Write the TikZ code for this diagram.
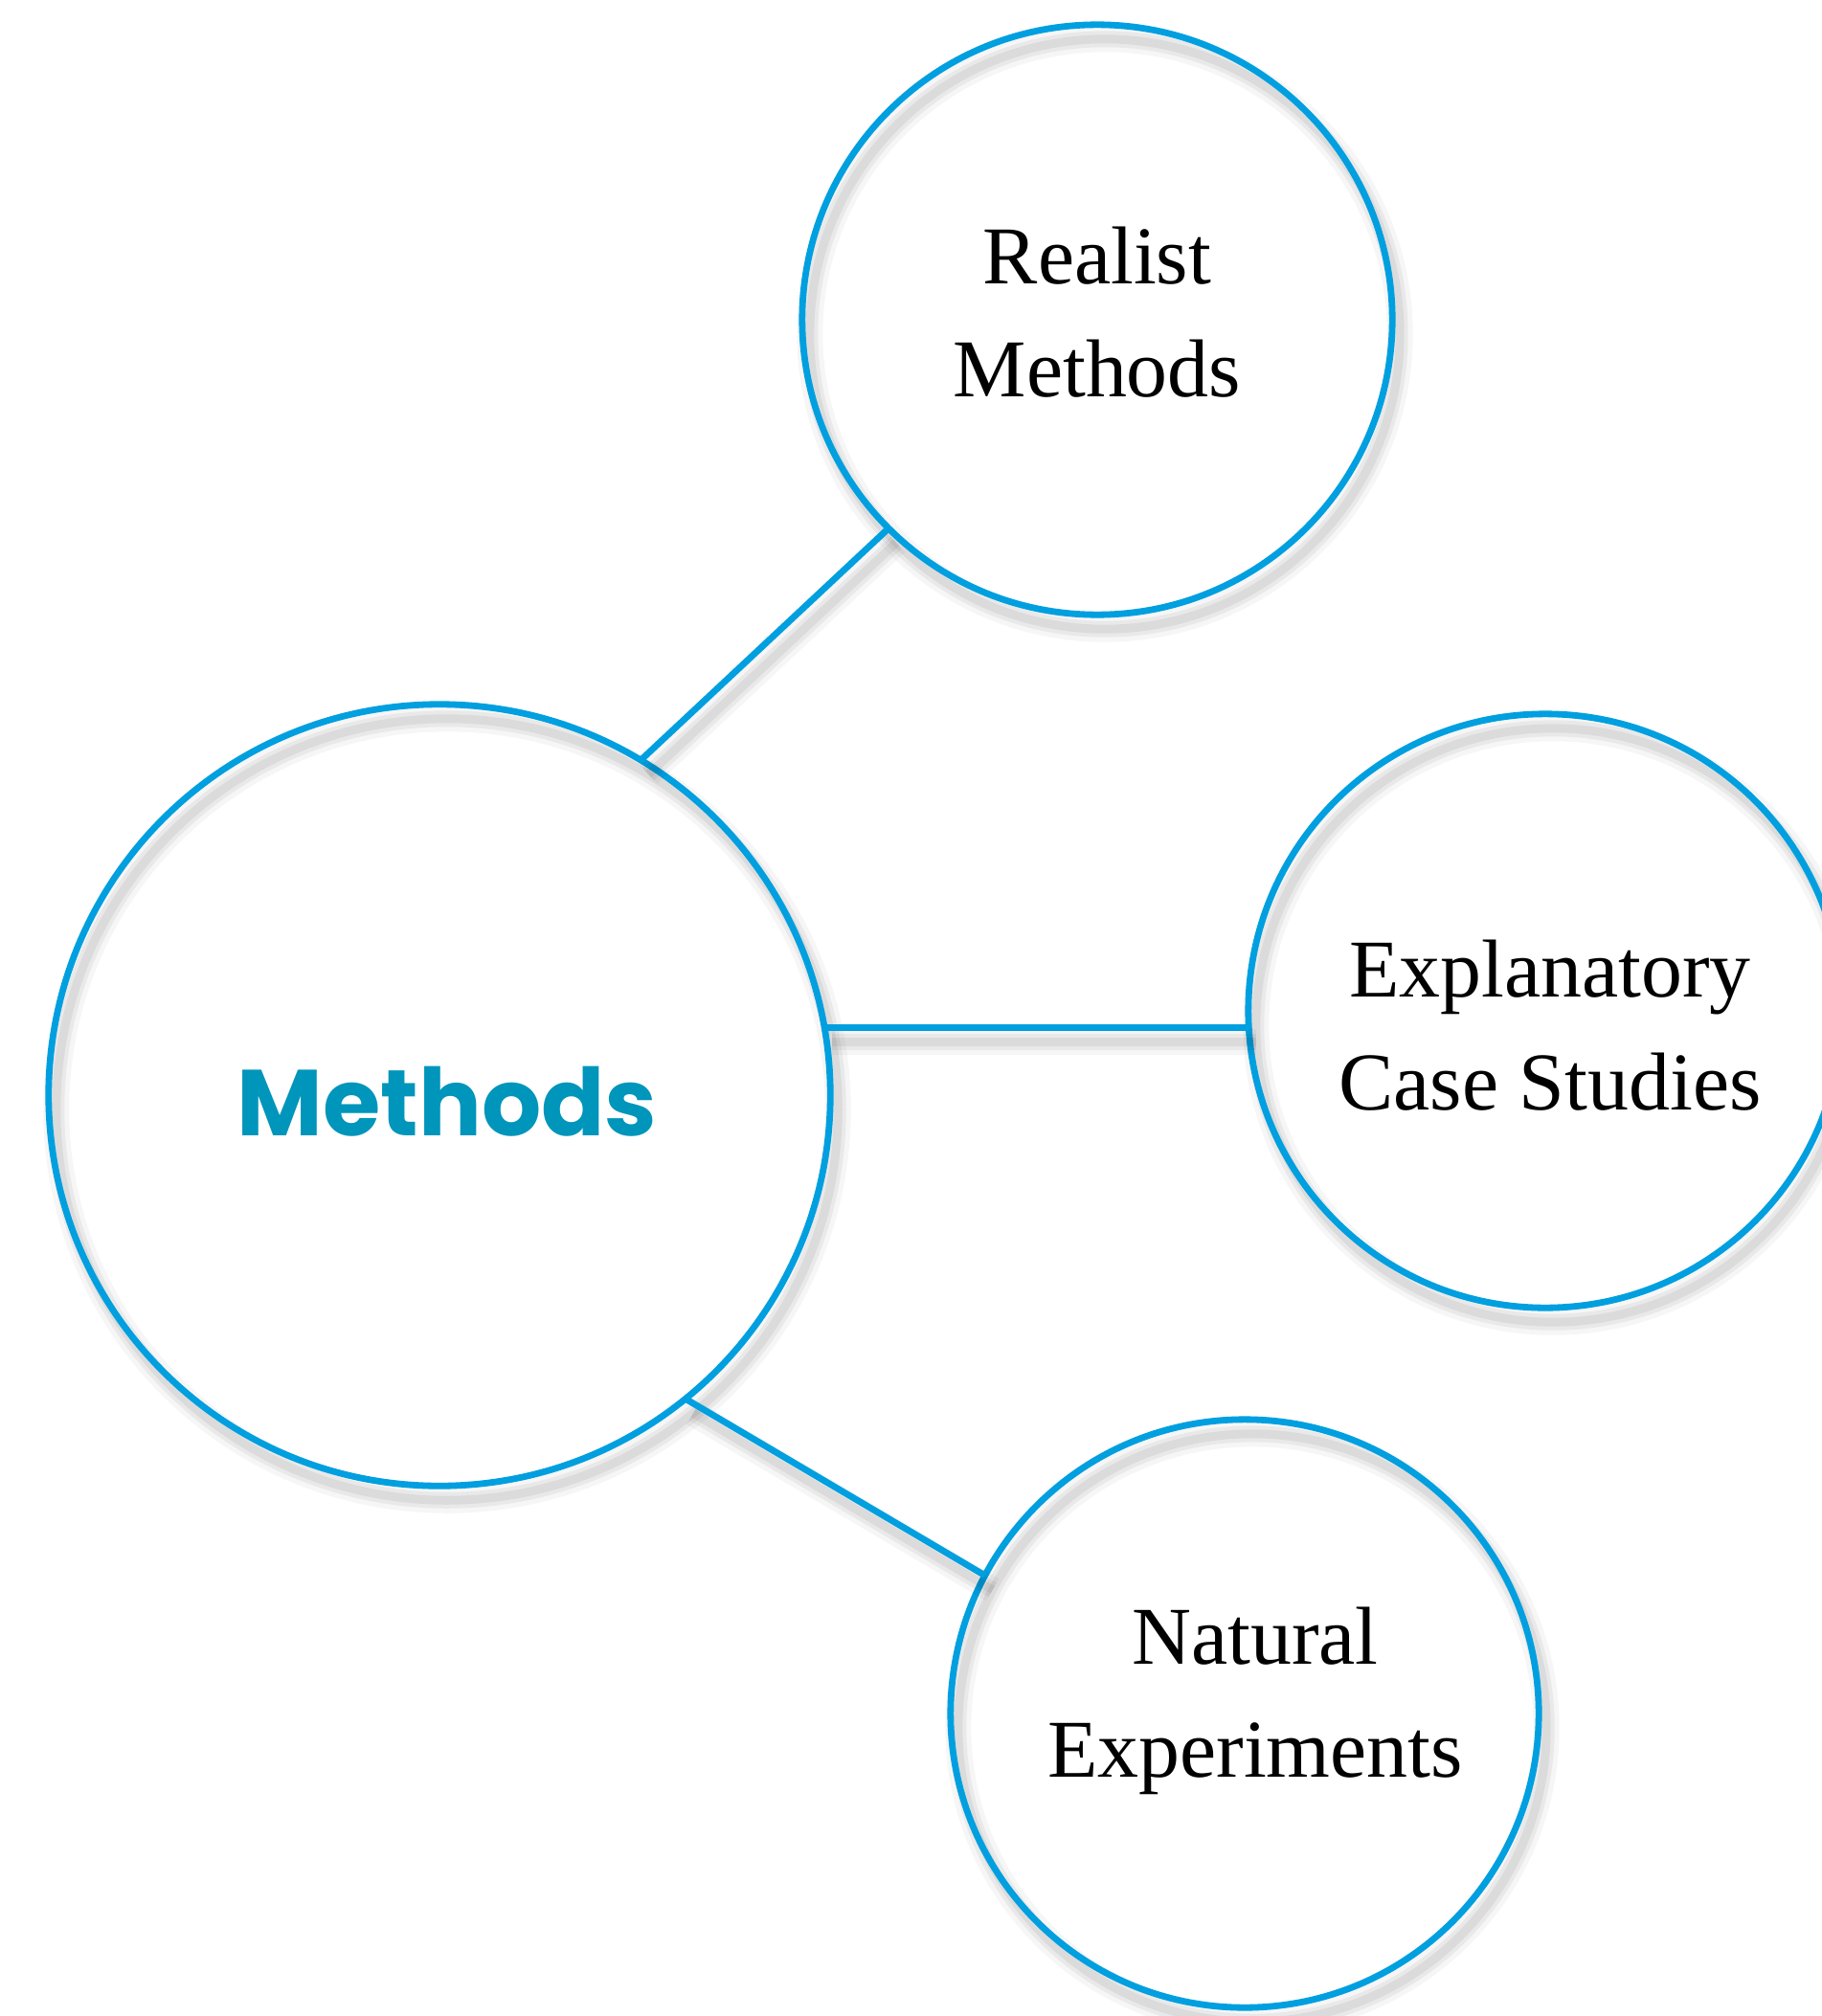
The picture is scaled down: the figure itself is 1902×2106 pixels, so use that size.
\documentclass[tikz,border=0pt]{standalone}
\usepackage{fontspec}
\setmainfont{Liberation Serif}
\newfontfamily\headfont{Poppins}
\definecolor{ring}{HTML}{009FDF}
\definecolor{headc}{HTML}{0095BA}
\begin{document}
\begin{tikzpicture}[x=0.01cm,y=-0.01cm]
\tikzset{
 sh/.style={
  preaction={draw=black,draw opacity=0.035,line width=0.27cm,transform canvas={shift={(0.08cm,-0.15cm)}}},
  preaction={draw=black,draw opacity=0.05,line width=0.17cm,transform canvas={shift={(0.08cm,-0.15cm)}}},
  preaction={draw=black,draw opacity=0.06,line width=0.09cm,transform canvas={shift={(0.08cm,-0.15cm)}}}},
 bub/.style={circle,draw=ring,line width=0.068cm,inner sep=0pt,outer sep=0pt,minimum size=#1,sh},
 conn/.style={draw=ring,line width=0.068cm,sh},
 lbl/.style={align=center,font=\fontsize{24.4}{33.5}\selectfont,inner sep=0pt},
 head/.style={font=\headfont\bfseries\fontsize{27.8}{34}\selectfont,text=headc,inner sep=0pt}
}
\useasboundingbox (0,0) rectangle (1902,2106);
\node[bub=8.16cm] (m) at (459,1144) {};
\node[bub=6.16cm] (r) at (1146,334) {};
\node[bub=6.2cm] (e) at (1614,1056) {};
\node[bub=6.14cm] (n) at (1300,1790) {};
\draw[conn] (m.59.7) -- (r.225);
\draw[conn] (m.10) -- (m.10 -| e.west);
\draw[conn] (m.-51.4) -- (n.152.7);
\node[head] (mt) at (467,1151) {Methods};
\node[lbl] (rt) at (1146,326) {Realist\\Methods};
\node[lbl] (et) at (1619,1071) {Explanatory\\Case Studies};
\node[lbl] (nt) at (1311,1777) {Natural\\Experiments};
\end{tikzpicture}
\end{document}
